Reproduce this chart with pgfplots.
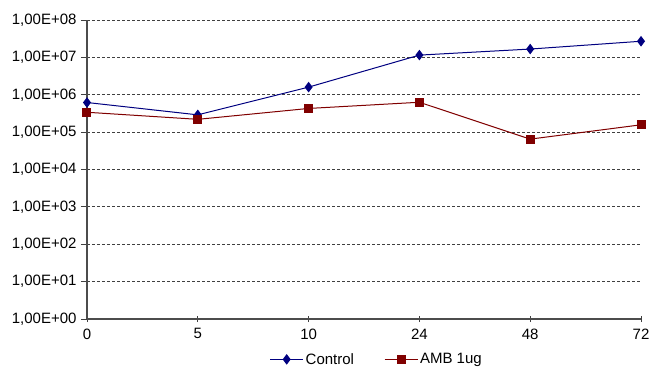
\documentclass[border=0pt]{standalone}
\usepackage{pgfplots}
\pgfplotsset{compat=1.18}
\usepackage{fontspec}
\setmainfont{Liberation Sans}
\definecolor{ctrl}{RGB}{0,0,128}
\definecolor{amb}{RGB}{128,0,0}
\begin{document}
\begin{tikzpicture}
\begin{axis}[
  width=554pt, height=299pt, scale only axis,
  ymode=log, ymin=1, ymax=1e8,
  xmin=0, xmax=5,
  axis x line=bottom, axis y line=left,
  axis line style={-, black!70, line width=1.1pt},
  xtick={0,1,2,3,4,5},
  xticklabels={0,5,10,24,48,72},
  ytick={1,10,100,1000,10000,100000,1000000,10000000,100000000},
  yticklabels={{1,00E+00},{1,00E+01},{1,00E+02},{1,00E+03},{1,00E+04},{1,00E+05},{1,00E+06},{1,00E+07},{1,00E+08}},
  minor ytick={},
  yminorticks=false,
  tick style={black!75, line width=0.8pt},
  xtick align=center,
  ytick align=outside,
  major tick length=6pt,
  ymajorgrids=true,
  grid style={black!75, dash pattern=on 3pt off 2pt, line width=0.8pt},
  tick label style={font=\fontsize{15}{17}\selectfont},
  yticklabel style={xshift=-1pt},
  xticklabel style={yshift=-3pt},
  legend style={draw=none, font=\fontsize{15}{17}\selectfont, at={(0.523,-0.135)}, anchor=center, legend columns=2, /tikz/every even column/.append style={column sep=28pt}},
  legend image code/.code={\draw[mark repeat=2,mark phase=2] plot coordinates {(0pt,0pt) (16.5pt,0pt) (33pt,0pt)};},
  legend cell align=left,
  clip=false,
]
\addplot[color=ctrl, line width=1pt, mark=diamond*, mark size=4.5pt, mark options={fill=ctrl}] coordinates {
(0,6.2e5) (1,2.9e5) (2,1.6e6) (3,1.15e7) (4,1.67e7) (5,2.7e7)};
\addlegendentry{Control}
\addplot[color=amb, line width=1pt, mark=square*, mark size=4pt, mark options={fill=amb}] coordinates {
(0,3.4e5) (1,2.2e5) (2,4.3e5) (3,6.3e5) (4,6.5e4) (5,1.57e5)};
\addlegendentry{AMB 1ug}
\end{axis}
\pgfresetboundingbox
\path ([xshift=-87pt,yshift=-51pt]current axis.south west) rectangle ([xshift=11pt,yshift=20pt]current axis.north east);
\end{tikzpicture}
\end{document}
